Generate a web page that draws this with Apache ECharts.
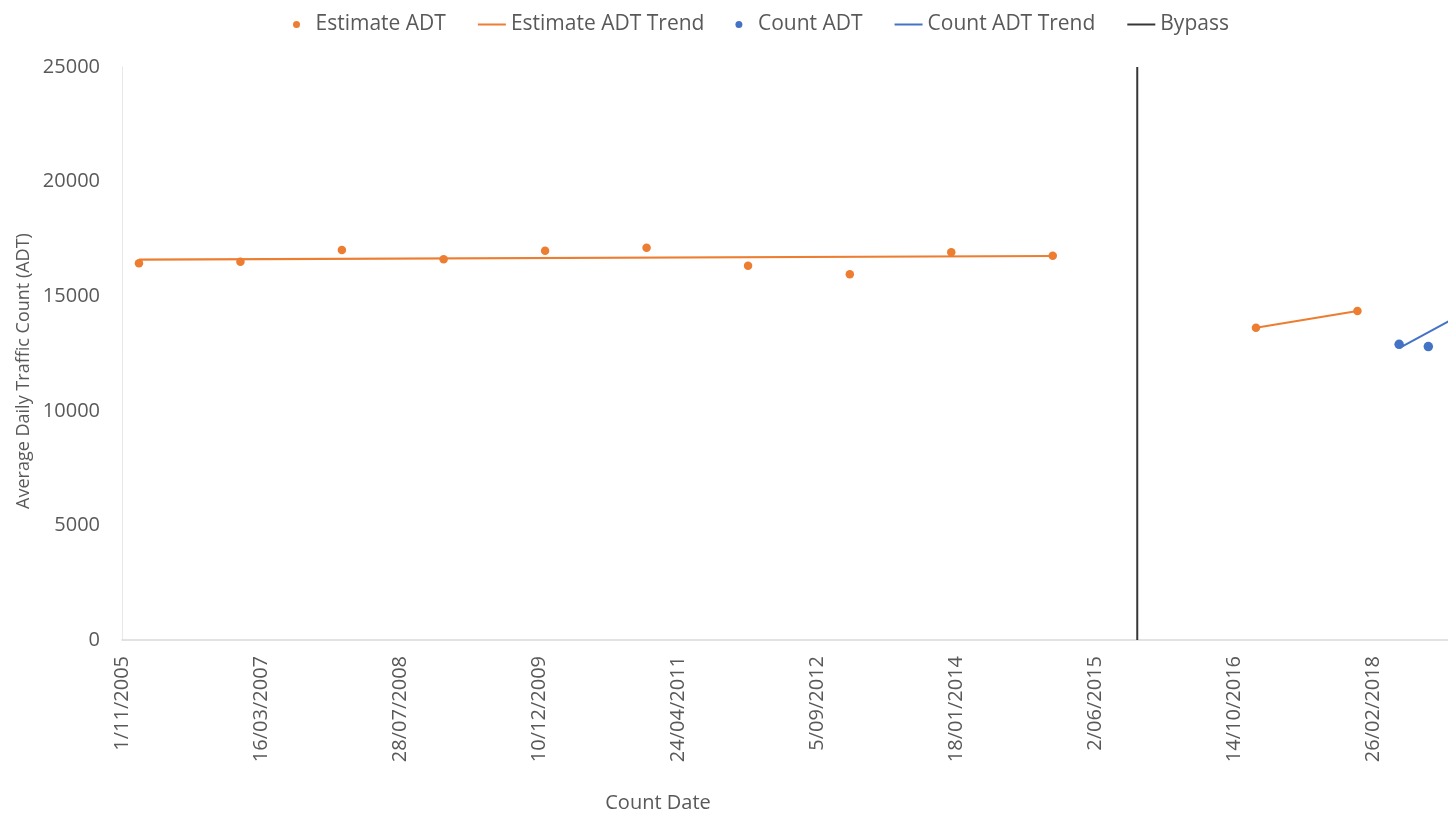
<!DOCTYPE html>
<html>
<head>
<meta charset="utf-8">
<script src="https://cdn.jsdelivr.net/npm/echarts@6/dist/echarts.min.js"></script>
<style>
  html, body { margin: 0; padding: 0; background: #ffffff; }
  #chart { width: 1448px; height: 813px; }
</style>
</head>
<body>
<div id="chart"></div>
<script>
// ---- Data ----
const axisStartDate = '2005-11-01';
const xTickLabels = ['1/11/2005', '16/03/2007', '28/07/2008', '10/12/2009', '24/04/2011',
                     '5/09/2012', '18/01/2014', '2/06/2015', '14/10/2016', '26/02/2018', '11/07/2019'];
const yTickValues = [0, 5000, 10000, 15000, 20000, 25000];

const estimateDates  = ['2006-01-01', '2007-01-01', '2008-01-01', '2009-01-01', '2010-01-01',
                        '2011-01-01', '2012-01-01', '2013-01-01', '2014-01-01', '2015-01-01',
                        '2017-01-01', '2018-01-01'];
const estimateValues = [16440, 16505, 17020, 16610, 16985, 17115, 16330, 15955, 16915, 16770,
                        13625, 14355];

const estimateTrend1Dates  = ['2006-01-01', '2015-01-01'];
const estimateTrend1Values = [16600, 16755];
const estimateTrend2Dates  = ['2017-01-01', '2018-01-01'];
const estimateTrend2Values = [13625, 14355];

const countDates  = ['2018-05-31', '2018-09-13'];
const countValues = [12900, 12800];

const countTrendDates  = ['2018-05-31', '2019-01-01'];
const countTrendValues = [12730, 14145];

const bypassDates  = ['2015-11-01', '2015-11-01'];
const bypassValues = [0, 25000];

// ---- helpers ----
function utc(s) { const p = s.split('-').map(Number); return Date.UTC(p[0], p[1] - 1, p[2]); }
const base = utc(axisStartDate);
function dayOf(s) { return Math.round((utc(s) - base) / 86400000); }
function pairs(dates, vals) { return dates.map((d, i) => [dayOf(d), vals[i]]); }

const FONT = 'Open Sans';
const TXT = '#595959';
const ORANGE = '#ED7D31';
const BLUE = '#4472C4';

const chart = echarts.init(document.getElementById('chart'), null, { renderer: 'canvas' });
chart.setOption({
  animation: false,
  backgroundColor: '#ffffff',
  legend: {
    top: 9,
    left: 288,
    itemWidth: 28,
    itemHeight: 7,
    itemGap: 31,
    textStyle: { fontFamily: FONT, fontSize: 21, color: TXT },
    data: [
      { name: 'Estimate ADT', icon: 'circle' },
      { name: 'Estimate ADT Trend', itemStyle: { opacity: 0 } },
      { name: 'Count ADT', icon: 'circle' },
      { name: 'Count ADT Trend', itemStyle: { opacity: 0 } },
      { name: 'Bypass', itemStyle: { opacity: 0 } }
    ]
  },
  grid: { left: 122, top: 67, height: 573, width: 1390, containLabel: false, outerBoundsMode: 'none' },
  xAxis: {
    type: 'value',
    min: 0,
    max: 5000,
    interval: 500,
    axisLine: { show: true, lineStyle: { color: '#d9d9d9', width: 1.5 } },
    axisTick: { show: false },
    splitLine: { show: false },
    axisLabel: {
      rotate: 90,
      margin: 16,
      fontFamily: FONT,
      fontSize: 20,
      color: TXT,
      formatter: v => xTickLabels[Math.round(v / 500)] || ''
    }
  },
  yAxis: {
    type: 'value',
    min: yTickValues[0],
    max: yTickValues[yTickValues.length - 1],
    interval: 5000,
    axisLine: { show: true, lineStyle: { color: '#e8e8e8', width: 1 } },
    axisTick: { show: false },
    splitLine: { show: false },
    axisLabel: { margin: 22, fontFamily: FONT, fontSize: 20, color: TXT, formatter: v => String(v) }
  },
  graphic: [
    {
      type: 'text', x: 24, y: 371, rotation: Math.PI / 2,
      style: { text: 'Average Daily Traffic Count (ADT)', fontFamily: FONT, fontSize: 18,
               fill: TXT, textAlign: 'center', textVerticalAlign: 'middle' }
    },
    {
      type: 'text', x: 658, y: 803,
      style: { text: 'Count Date', fontFamily: FONT, fontSize: 20,
               fill: TXT, textAlign: 'center', textVerticalAlign: 'middle' }
    }
  ],
  series: [
    {
      name: 'Bypass', type: 'line', symbol: 'none', z: 1,
      data: pairs(bypassDates, bypassValues),
      lineStyle: { color: '#363636', width: 2 }, itemStyle: { color: '#363636' }
    },
    {
      name: 'Estimate ADT Trend', type: 'line', symbol: 'none', z: 2,
      data: pairs(estimateTrend1Dates, estimateTrend1Values),
      lineStyle: { color: ORANGE, width: 2.2 }, itemStyle: { color: ORANGE }
    },
    {
      name: 'Estimate ADT Trend', type: 'line', symbol: 'none', z: 2,
      data: pairs(estimateTrend2Dates, estimateTrend2Values),
      lineStyle: { color: ORANGE, width: 2.2 }, itemStyle: { color: ORANGE }
    },
    {
      name: 'Count ADT Trend', type: 'line', symbol: 'none', z: 2,
      data: pairs(countTrendDates, countTrendValues),
      lineStyle: { color: BLUE, width: 2 }, itemStyle: { color: BLUE }
    },
    {
      name: 'Estimate ADT', type: 'scatter', symbol: 'circle', symbolSize: 8.5, z: 3,
      data: pairs(estimateDates, estimateValues),
      itemStyle: { color: ORANGE, opacity: 1 }
    },
    {
      name: 'Count ADT', type: 'scatter', symbol: 'circle', symbolSize: 9.5, z: 3,
      data: pairs(countDates, countValues),
      itemStyle: { color: BLUE, opacity: 1 }
    }
  ]
});
</script>
</body>
</html>
